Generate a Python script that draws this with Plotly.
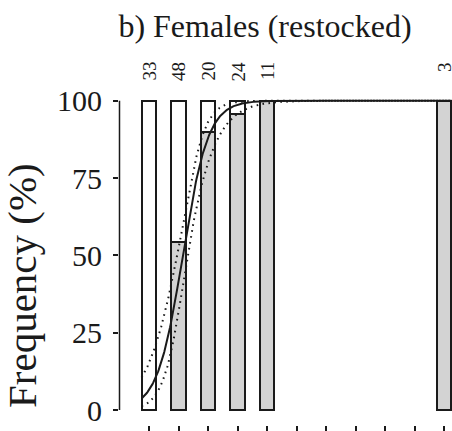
import numpy as np
import plotly.graph_objects as go

# Size classes (bar positions), sample sizes and number of mature females
classes = [1, 2, 3, 4, 5, 11]
n_total = [33, 48, 20, 24, 11, 3]
n_mature = [0, 26, 18, 23, 11, 3]
tick_positions = list(range(1, 12))
y_ticks = [0, 25, 50, 75, 100]

# Fitted logistic maturity ogive (logit scale) and coefficient covariance
coef_intercept = -5.0
coef_slope = 2.33
cov_aa, cov_ab, cov_bb = 0.657, -0.269, 0.117
z_crit = 1.96
curve_span = (0.75, 11.25)

pct_mature = [100.0 * m / n for m, n in zip(n_mature, n_total)]

# Evaluate the ogive and its 95% confidence band
xs = np.linspace(curve_span[0], curve_span[1], 600)
eta = coef_intercept + coef_slope * xs
se = np.sqrt(cov_aa + 2 * cov_ab * xs + cov_bb * xs ** 2)
inv_logit = lambda v: 100.0 / (1.0 + np.exp(-v))
fit = inv_logit(eta)
upper = inv_logit(eta + z_crit * se)
lower = inv_logit(eta - z_crit * se)

INK = "#1a1a1a"
FONT = "Liberation Serif, Times New Roman, serif"

fig = go.Figure()

# Full-height outlined bars (100%) with the mature share shaded
fig.add_trace(go.Bar(
    x=classes, y=[100] * len(classes), width=0.5,
    marker=dict(color="white", line=dict(color=INK, width=2)),
    hoverinfo="skip",
))
fig.add_trace(go.Bar(
    x=classes, y=pct_mature, width=0.5,
    marker=dict(color="#d3d3d3", line=dict(color=INK, width=2)),
))

for band in (upper, lower):
    fig.add_trace(go.Scatter(
        x=xs, y=band, mode="lines",
        line=dict(color=INK, width=2, dash="1.6px,4.4px"),
        hoverinfo="skip",
    ))
fig.add_trace(go.Scatter(
    x=xs, y=fit, mode="lines",
    line=dict(color=INK, width=2),
))

# Sample sizes above each bar
annotations = []
for c, n in zip(classes, n_total):
    annotations.append(dict(
        x=c, xref="x", y=(425 - 60) / 330, yref="paper",
        text=str(n), textangle=-90, showarrow=False,
        xanchor="center", yanchor="top",
        font=dict(family=FONT, size=19, color=INK),
    ))

# Y axis title
annotations.append(dict(
    x=(22 - 119) / 333, xref="paper", y=(425 - 286) / 330, yref="paper",
    text="Frequency (%)", textangle=-90, showarrow=False,
    xanchor="center", yanchor="middle",
    font=dict(family=FONT, size=41, color=INK),
))

fig.update_layout(
    width=452, height=431,
    margin=dict(l=119, r=0, t=95, b=6),
    barmode="overlay", bargap=0,
    showlegend=False,
    plot_bgcolor="white", paper_bgcolor="white",
    font=dict(family=FONT, color=INK),
    title=dict(
        text="b) Females (restocked)", xref="container", yref="container",
        x=265 / 452, y=1 - 26 / 431, xanchor="center", yanchor="middle",
        font=dict(family=FONT, size=32, color=INK),
    ),
    annotations=annotations,
    shapes=[dict(
        type="line", xref="paper", x0=0.0015, x1=0.0015,
        yref="y", y0=0, y1=100,
        line=dict(color=INK, width=1.5),
    )],
)

fig.update_xaxes(
    range=[-0.017, 11.27], tickvals=tick_positions, ticks="outside",
    ticklen=6, tickwidth=1.5, tickcolor=INK, showticklabels=False,
    showgrid=False, zeroline=False, showline=False, fixedrange=True,
)
fig.update_yaxes(
    range=[-4.85, 101.84], tickvals=y_ticks, ticks="outside",
    ticklen=5, tickwidth=1.5, tickcolor=INK, ticklabelstandoff=5,
    tickfont=dict(family=FONT, size=30, color=INK),
    showgrid=False, zeroline=False, showline=False, fixedrange=True,
)

fig.write_html("out.html")
